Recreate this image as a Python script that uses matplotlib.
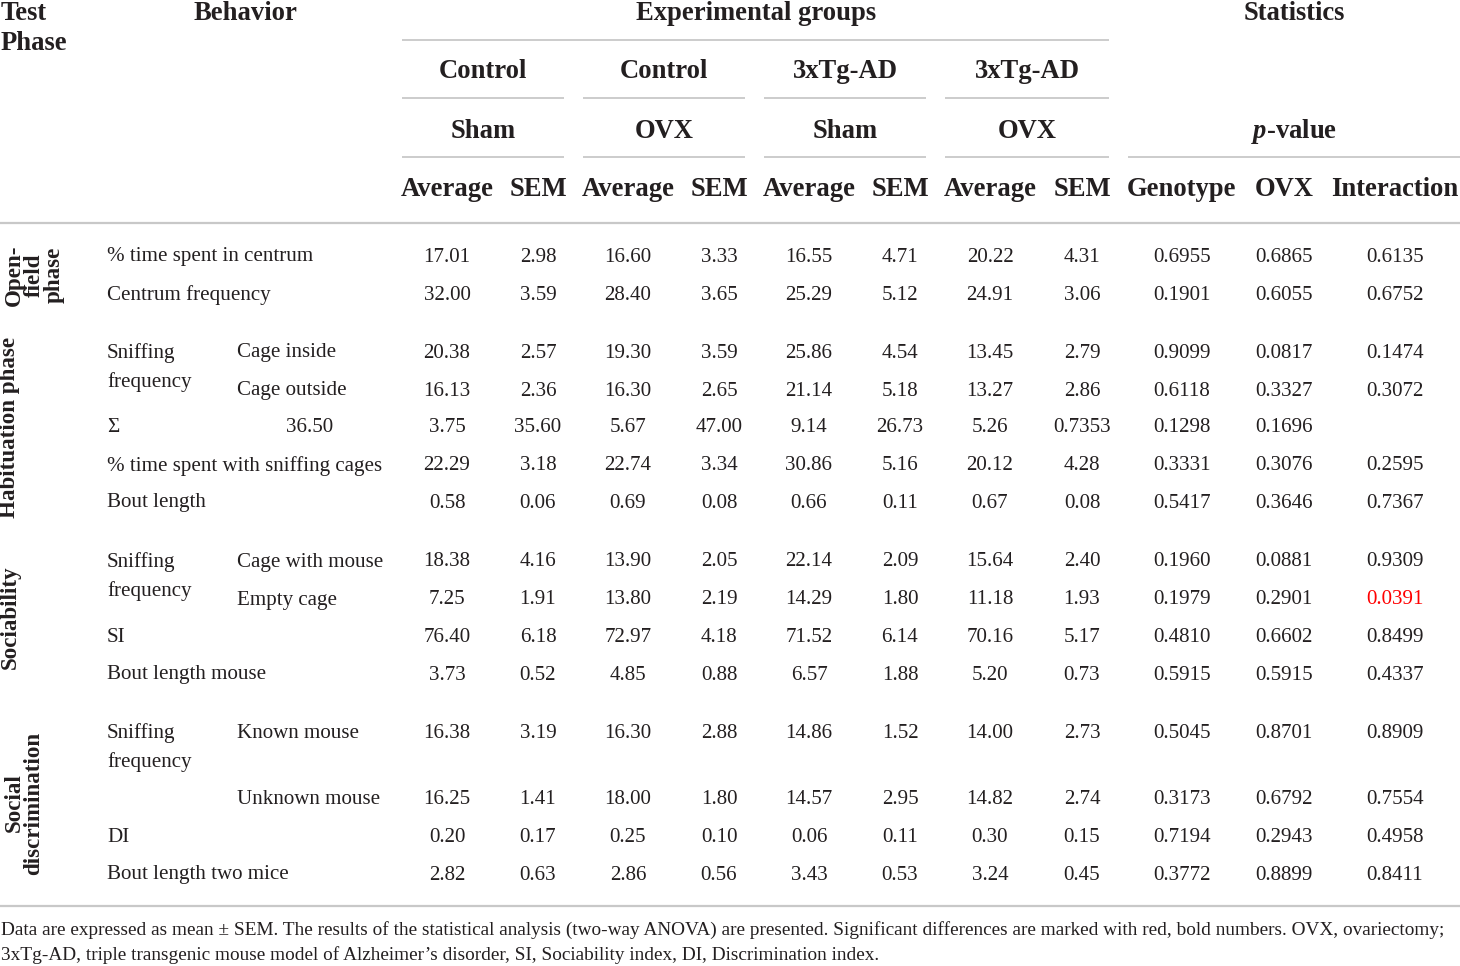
import matplotlib
matplotlib.use("Agg")
import matplotlib.pyplot as plt

plt.rcParams['font.family'] = ['Liberation Serif', 'DejaVu Serif']
plt.rcParams['mathtext.fontset'] = 'custom'
plt.rcParams['mathtext.it'] = 'Liberation Serif:italic:bold'
plt.rcParams['mathtext.rm'] = 'Liberation Serif:bold'

# ---------------- data ----------------
groups_top = ["Control", "Control", "3xTg-AD", "3xTg-AD"]
groups_sub = ["Sham", "OVX", "Sham", "OVX"]
stat_cols = ["Genotype", "OVX", "Interaction"]

phases = ["Open-\nfield\nphase", "Habituation phase", "Sociability", "Social\ndiscrimination"]

behavior = [
    "% time spent in centrum", "Centrum frequency",
    "Sniffing\nfrequency", "", "\u03a3", "% time spent with sniffing cages", "Bout length",
    "Sniffing\nfrequency", "", "SI", "Bout length mouse",
    "Sniffing\nfrequency", "", "DI", "Bout length two mice",
]
sub_behavior = [
    "", "",
    "Cage inside", "Cage outside", "", "", "",
    "Cage with mouse", "Empty cage", "", "",
    "Known mouse", "Unknown mouse", "", "",
]
# 8 group values (Average, SEM x 4) per row
group_values = [
    ["17.01", "2.98", "16.60", "3.33", "16.55", "4.71", "20.22", "4.31"],
    ["32.00", "3.59", "28.40", "3.65", "25.29", "5.12", "24.91", "3.06"],
    ["20.38", "2.57", "19.30", "3.59", "25.86", "4.54", "13.45", "2.79"],
    ["16.13", "2.36", "16.30", "2.65", "21.14", "5.18", "13.27", "2.86"],
    ["3.75", "35.60", "5.67", "47.00", "9.14", "26.73", "5.26", "0.7353"],
    ["22.29", "3.18", "22.74", "3.34", "30.86", "5.16", "20.12", "4.28"],
    ["0.58", "0.06", "0.69", "0.08", "0.66", "0.11", "0.67", "0.08"],
    ["18.38", "4.16", "13.90", "2.05", "22.14", "2.09", "15.64", "2.40"],
    ["7.25", "1.91", "13.80", "2.19", "14.29", "1.80", "11.18", "1.93"],
    ["76.40", "6.18", "72.97", "4.18", "71.52", "6.14", "70.16", "5.17"],
    ["3.73", "0.52", "4.85", "0.88", "6.57", "1.88", "5.20", "0.73"],
    ["16.38", "3.19", "16.30", "2.88", "14.86", "1.52", "14.00", "2.73"],
    ["16.25", "1.41", "18.00", "1.80", "14.57", "2.95", "14.82", "2.74"],
    ["0.20", "0.17", "0.25", "0.10", "0.06", "0.11", "0.30", "0.15"],
    ["2.82", "0.63", "2.86", "0.56", "3.43", "0.53", "3.24", "0.45"],
]
sigma_extra = "36.50"  # value shown in the sub-behavior column of the \u03a3 row
p_values = [
    ["0.6955", "0.6865", "0.6135"],
    ["0.1901", "0.6055", "0.6752"],
    ["0.9099", "0.0817", "0.1474"],
    ["0.6118", "0.3327", "0.3072"],
    ["0.1298", "0.1696", ""],
    ["0.3331", "0.3076", "0.2595"],
    ["0.5417", "0.3646", "0.7367"],
    ["0.1960", "0.0881", "0.9309"],
    ["0.1979", "0.2901", "0.0391"],
    ["0.4810", "0.6602", "0.8499"],
    ["0.5915", "0.5915", "0.4337"],
    ["0.5045", "0.8701", "0.8909"],
    ["0.3173", "0.6792", "0.7554"],
    ["0.7194", "0.2943", "0.4958"],
    ["0.3772", "0.8899", "0.8411"],
]
significant = [(8, 2)]  # (row, p-column) marked red

footnote_lines = [
    "Data are expressed as mean \u00b1 SEM. The results of the statistical analysis (two-way ANOVA) are presented. "
    "Significant differences are marked with red, bold numbers. OVX, ovariectomy;",
    "3xTg-AD, triple transgenic mouse model of Alzheimer\u2019s disorder, SI, Sociability index, DI, Discrimination index.",
]

# ---------------- layout ----------------
W, H = 1460, 966
fig = plt.figure(figsize=(W / 100, H / 100), dpi=100)
ax = fig.add_axes([0, 0, 1, 1])
ax.set_xlim(0, W)
ax.set_ylim(H, 0)
ax.axis('off')

TXT = '#231f20'
LINE = '#c8c8c8'
HFS = 19.2
RFS = 16.6
BFS = 15.1
DY = 2

data_x = [447, 538, 628, 719, 809, 900, 990, 1082]
stat_x = [1182, 1284, 1395]
row_y = [255, 293, 351, 389, 426, 464, 501, 560, 598, 635, 673, 731, 798, 835, 873]
group_segs = [(402, 564), (583, 745), (764, 926), (945, 1109)]

def hline(x0, x1, y, lw=1.3):
    ax.plot([x0, x1], [y, y], color=LINE, lw=lw, solid_capstyle='butt')

def htext(x, y, s, ha='center'):
    ax.text(x, y + DY, s, fontsize=HFS, fontweight='bold', color=TXT, ha=ha, va='center')

# header
htext(1, 11, "Test", ha='left')
htext(1, 41, "Phase", ha='left')
htext(245, 11, "Behavior")
htext(756, 11, "Experimental groups")
htext(1294, 11, "Statistics")
hline(402, 1109, 40)
for (x0, x1), top, sub in zip(group_segs, groups_top, groups_sub):
    xc = (x0 + x1) / 2
    htext(xc, 70, top)
    hline(x0, x1, 98)
    htext(xc, 129, sub)
    hline(x0, x1, 157)
htext(1294, 129, r"$p$-value")
hline(1128, 1460, 157)
for i, x in enumerate(data_x):
    htext(x, 187, "Average" if i % 2 == 0 else "SEM")
for x, s in zip(stat_x, stat_cols):
    htext(x, 187, s)
hline(0, W, 223, lw=1.6)

# phase labels (rotated)
ax.text(34, 275, phases[0], rotation=90, fontsize=RFS, fontweight='bold', color=TXT,
        ha='center', va='center', linespacing=0.92, multialignment='center')
ax.text(10, 427, phases[1], rotation=90, fontsize=RFS, fontweight='bold', color=TXT,
        ha='center', va='center')
ax.text(10, 617, phases[2], rotation=90, fontsize=RFS, fontweight='bold', color=TXT,
        ha='center', va='center')
ax.text(24, 803, phases[3], rotation=90, fontsize=RFS, fontweight='bold', color=TXT,
        ha='center', va='center', linespacing=0.88, multialignment='center')

# body rows
for r, y in enumerate(row_y):
    y = y + DY
    b = behavior[r]
    if b:
        lines = b.split("\n")
        for k, ln in enumerate(lines):
            ax.text(107, y + 29 * k, ln, fontsize=BFS, color=TXT, ha='left', va='center')
    if sub_behavior[r]:
        ax.text(237, y, sub_behavior[r], fontsize=BFS, color=TXT, ha='left', va='center')
    if behavior[r] == "\u03a3":
        ax.text(310, y, sigma_extra, fontsize=BFS, color=TXT, ha='center', va='center')
    for x, v in zip(data_x, group_values[r]):
        ax.text(x, y, v, fontsize=BFS, color=TXT, ha='center', va='center')
    for c, (x, v) in enumerate(zip(stat_x, p_values[r])):
        col = '#ff0000' if (r, c) in significant else TXT
        ax.text(x, y, v, fontsize=BFS, color=col, ha='center', va='center')

hline(0, W, 906, lw=1.6)
for k, ln in enumerate(footnote_lines):
    ax.text(1, 930 + 25 * k, ln, fontsize=13.85, color=TXT, ha='left', va='center')

fig.savefig("out.png", dpi=100)
